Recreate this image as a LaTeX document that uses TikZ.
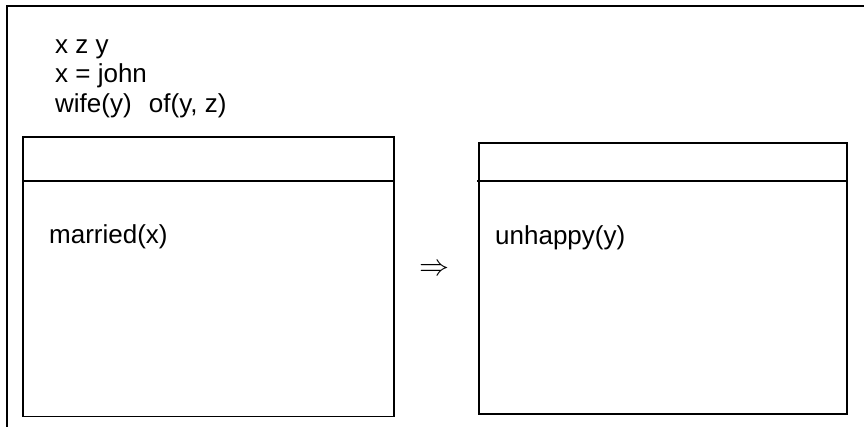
\documentclass[tikz,border=0pt]{standalone}
\usepackage{fontspec}
\setmainfont{Liberation Sans}
\begin{document}
\begin{tikzpicture}[x=1bp,y=-1bp,
  frame/.style={line width=1.6bp, draw=black},
  lbl/.style={anchor=base west, inner sep=0pt, font=\fontsize{26bp}{30bp}\selectfont}]
\useasboundingbox (0,0) rectangle (864,426);
\clip (0,0) rectangle (864,426);

% outer discourse frame (runs past the right and bottom edges)
\draw[frame] (7,6) rectangle (890,450);

% universe and conditions of the outer frame
\node[lbl] (univ) at (55,53) {x z y};
\node[lbl] (cond1) at (55,82.5) {x = john};
\node[lbl] (cond2) at (55,112) {wife(y)\hspace{10bp} of(y, z)};

% antecedent box
\coordinate (ltl) at (23,137);
\coordinate (lbr) at (394,416.5);
\draw[frame] (ltl) rectangle (lbr);
\draw[frame] (23,181) -- (394,181);
\node[lbl] (ante) at (49,243.5) {married(x)};

% implication sign
\node[inner sep=0pt] (impl) at (434,269.5) {\resizebox{30bp}{!}{$\Rightarrow$}};

% consequent box
\coordinate (rtl) at (479,143);
\coordinate (rbr) at (847,414);
\draw[frame] (rtl) rectangle (rbr);
\draw[frame] (477,181) -- (846,181);
\node[lbl] (cons) at (495,244) {unhappy(y)};
\end{tikzpicture}
\end{document}
